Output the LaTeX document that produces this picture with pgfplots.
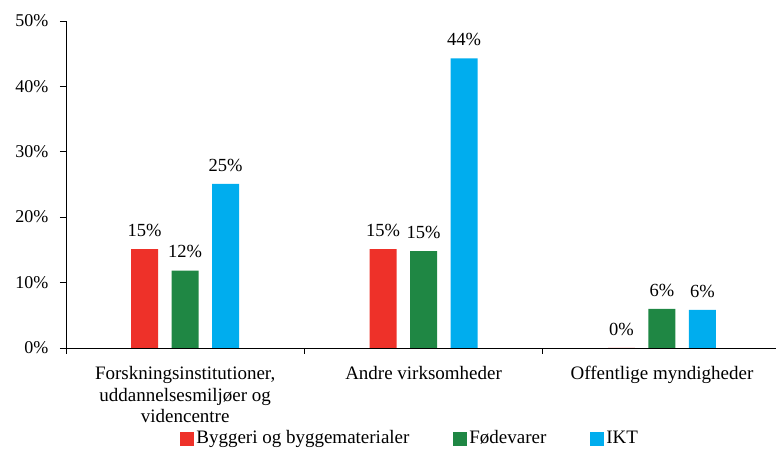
\documentclass[border=0pt]{standalone}
\usepackage{pgfplots}
\pgfplotsset{compat=1.18}
\usepackage{fontspec}
\setmainfont{Liberation Serif}
\definecolor{cred}{HTML}{EE3129}
\definecolor{cgreen}{HTML}{1F8744}
\definecolor{cblue}{HTML}{00ADEE}
\begin{document}
\fontsize{19bp}{22bp}\selectfont
\begin{tikzpicture}
\begin{axis}[
  name=ax,
  scale only axis,
  width=710bp, height=327bp,
  xmin=-0.5, xmax=2.477,
  ymin=0, ymax=50,
  axis lines*=left,
  axis line style={black, line width=0.6bp},
  tick align=outside,
  major tick length=6bp,
  tick style={black, line width=0.6bp},
  ytick={0,10,20,30,40,50},
  yticklabel={\pgfmathprintnumber[assume math mode=true]{\tick}\%},
  yticklabel style={font=\fontsize{18bp}{22bp}\selectfont, xshift=-5bp},
  xtick={-0.5,0.5,1.5},
  xticklabels={},
  extra x ticks={0,1,2},
  extra x tick labels={{Forskningsinstitutioner,\\uddannelsesmiljøer og\\videncentre},{Andre virksomheder},{Offentlige myndigheder}},
  extra x tick style={major tick length=0pt, tick label style={align=center, font=\fontsize{19bp}{21.5bp}\selectfont, yshift=-12bp}},
  ybar=13.5bp,
  bar width=27bp,
  nodes near coords={\pgfmathprintnumber[fixed,precision=0,assume math mode=true]{\pgfplotspointmeta}\%},
  every node near coord/.append style={font=\fontsize{18.5bp}{20bp}\selectfont, black, yshift=6bp},
  legend style={at={(0.485,-0.278)}, anchor=center, draw=none, legend columns=3,
    font=\fontsize{19bp}{22bp}\selectfont,
    /tikz/every even column/.append style={column sep=42bp}},
  legend image code/.code={\fill[#1] (0bp,-7bp) rectangle (14bp,7bp);},
]
\addplot[fill=cred, draw=none] coordinates {(0,15.1) (1,15.1) (2,0)};
\addplot[fill=cgreen, draw=none] coordinates {(0,11.8) (1,14.8) (2,5.95)};
\addplot[fill=cblue, draw=none] coordinates {(0,25.1) (1,44.3) (2,5.8)};
\legend{Byggeri og byggematerialer, Fødevarer, IKT}
\end{axis}
\useasboundingbox (ax.south west) ++(-66bp,-121bp) rectangle ++(776bp,469bp);
\end{tikzpicture}
\end{document}
